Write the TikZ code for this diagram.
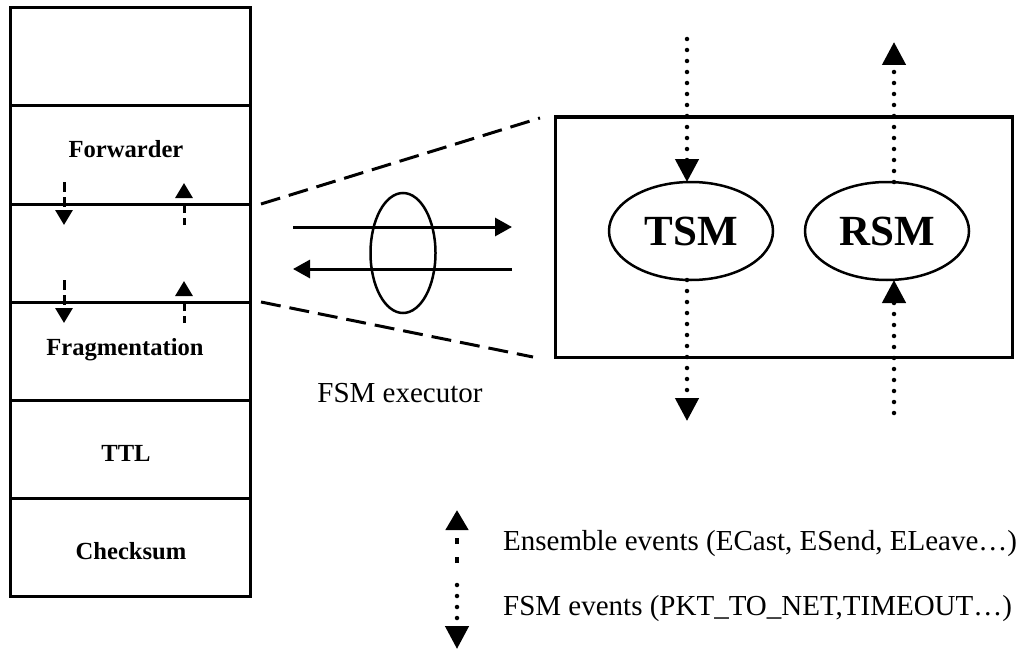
\documentclass[tikz,border=0pt]{standalone}
\usepackage{fontspec}
\setmainfont{Liberation Serif}
\usetikzlibrary{arrows.meta,shapes.geometric}

\begin{document}
\begin{tikzpicture}[x=1pt,y=-1pt,
  rowbox/.style={draw,line width=3pt,minimum width=240pt,minimum height=98pt,inner sep=0pt,outer sep=0pt},
  layerlbl/.style={font=\bfseries\fontsize{24.6}{28}\selectfont,anchor=base,inner sep=0pt},
  plain/.style={font=\fontsize{29}{34}\selectfont,inner sep=0pt},
  fsm/.style={draw,ellipse,line width=2.5pt,minimum width=164pt,minimum height=98pt,inner sep=0pt,outer sep=0pt,
    font=\bfseries\fontsize{43}{48}\selectfont},
  stackdown/.style={line width=3pt,dash pattern=on 10pt off 5pt,-{Triangle[width=17pt,length=15pt]}},
  stackup/.style={line width=3pt,dash pattern=on 7pt off 5pt on 10pt off 5pt,-{Triangle[width=17pt,length=15pt]}},
  dotarrow/.style={line width=4.5pt,line cap=round,dash pattern=on 0pt off 11pt,-{Triangle[width=23pt,length=23pt]}},
  midarrow/.style={line width=3pt,-{Triangle[width=18pt,length=17pt]}},
  zoomline/.style={line width=3pt,dash pattern=on 20pt off 9pt},
  legdash/.style={line width=4.5pt,dash pattern=on 6pt off 13pt,-{Triangle[width=22pt,length=20pt]}}
]
\useasboundingbox (0,0) rectangle (1024,650);

% protocol stack
\node[rowbox] (r0) at (130,57) {};
\node[rowbox] (r1) at (130,155) {};
\node[rowbox] (r2) at (130,253) {};
\node[rowbox] (r3) at (130,351) {};
\node[rowbox] (r4) at (130,449) {};
\node[rowbox] (r5) at (130,547.5) {};

\node[layerlbl] (fwd) at (126,157.7) {Forwarder};
\node[layerlbl] (frag) at (125,355) {Fragmentation};
\node[layerlbl] (ttl) at (126,461) {TTL};
\node[layerlbl] (chk) at (131,559) {Checksum};

% events passing between the layers
\coordinate (d1a) at (64,182);  \coordinate (d1b) at (64,225);
\coordinate (d2a) at (64,280);  \coordinate (d2b) at (64,323);
\coordinate (u1a) at (184,225); \coordinate (u1b) at (184,183);
\coordinate (u2a) at (184,323); \coordinate (u2b) at (184,281);
\draw[stackdown] (d1a) -- (d1b);
\draw[stackdown] (d2a) -- (d2b);
\draw[stackup] (u1a) -- (u1b);
\draw[stackup] (u2a) -- (u2b);

% FSM executor box
\node[draw,line width=3pt,minimum width=457pt,minimum height=240pt,inner sep=0pt,outer sep=0pt] (exe) at (783.5,237) {};
\node[fsm] (TSM) at (691,231) {TSM};
\node[fsm] (RSM) at (887,231) {RSM};

% magnification lines
\coordinate (z1a) at (261,204); \coordinate (z1b) at (540,118);
\coordinate (z2a) at (261,302); \coordinate (z2b) at (533,357);
\draw[zoomline] (z1a) -- (z1b);
\draw[zoomline] (z2a) -- (z2b);

% exchange with the executor
\node[draw,ellipse,line width=2.5pt,minimum width=65pt,minimum height=120pt,inner sep=0pt] (bundle) at (403,253) {};
\coordinate (ma) at (293,227); \coordinate (mb) at (512,227);
\coordinate (mc) at (512,269); \coordinate (md) at (293,269);
\draw[midarrow] (ma) -- (mb);
\draw[midarrow] (mc) -- (md);
\node[plain,anchor=base] (fsmx) at (400,402) {FSM executor};

% events through the state machines
\coordinate (tin) at (687,39);
\coordinate (tout) at (687,421);
\coordinate (rout) at (894,42);
\coordinate (rin) at (894,413);
\draw[dotarrow] (tin) -- (tin |- TSM.north);
\draw[dotarrow] (tout |- TSM.south) -- (tout);
\draw[dotarrow] (rout |- RSM.north) -- (rout);
\draw[dotarrow] (rin) -- (rin |- RSM.south);

% legend
\coordinate (la) at (457,563); \coordinate (lb) at (457,510);
\coordinate (lc) at (457,585); \coordinate (ld) at (457,649);
\draw[legdash] (la) -- (lb);
\draw[dotarrow] (lc) -- (ld);
\node[plain,anchor=base west] (leg1) at (503,550) {Ensemble events (ECast, ESend, ELeave…)};
\node[plain,anchor=base west] (leg2) at (503,615) {FSM events (PKT\_TO\_NET,TIMEOUT…)};
\end{tikzpicture}
\end{document}
